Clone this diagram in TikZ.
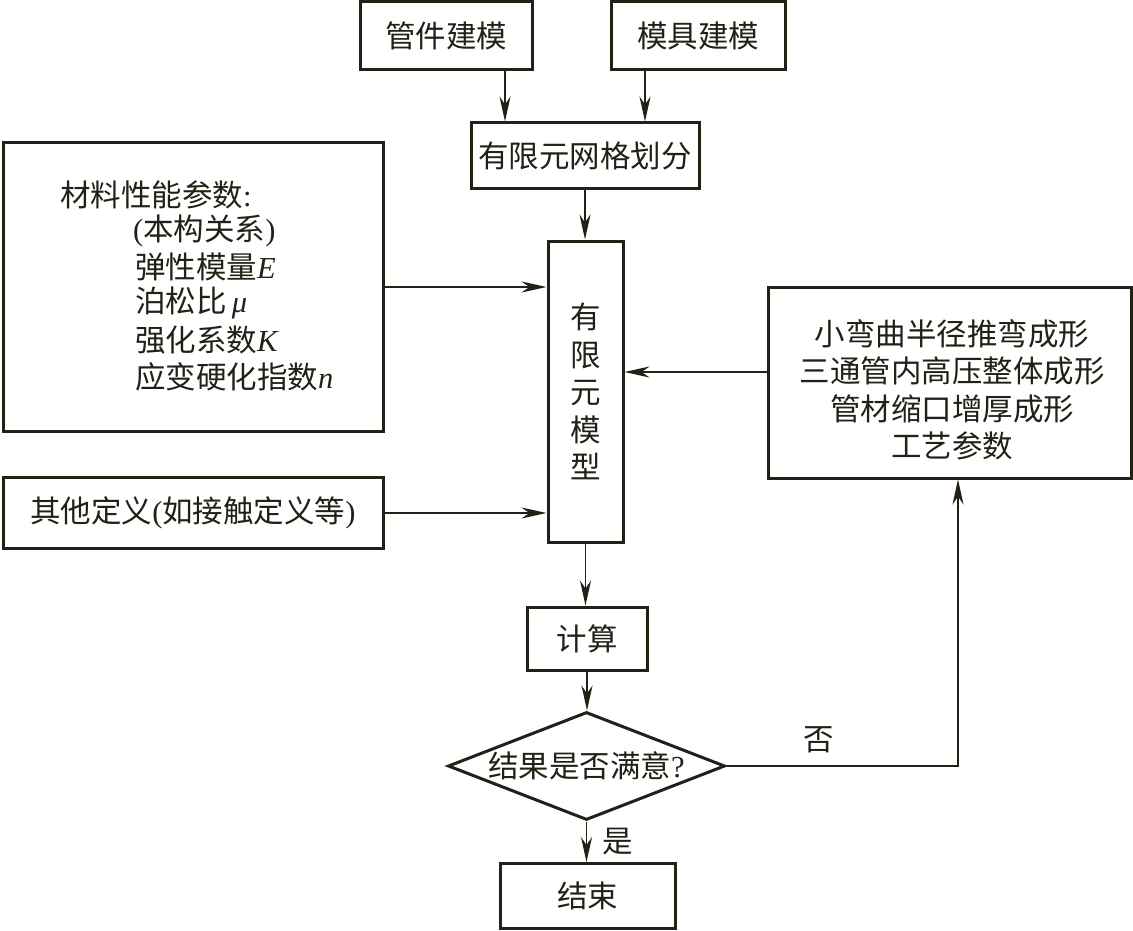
\documentclass[tikz,border=0pt]{standalone}
\usepackage{fontspec}
\setmainfont{Liberation Serif}
\newfontfamily\cjk{Noto Sans CJK SC}
\usetikzlibrary{shapes.geometric,arrows.meta}
\definecolor{ink}{RGB}{35,32,22}
\newcommand\ltn[1]{{\rmfamily #1}}
\newcommand\ltit[1]{{\rmfamily\itshape #1}}
\begin{document}
\begin{tikzpicture}[x=1pt,y=-1pt,
  box/.style={draw=ink, line width=3pt, inner sep=0pt, text=ink,
    font=\fontsize{30.5}{37.5}\selectfont\cjk, align=center},
  txt/.style={inner sep=0pt, text=ink, font=\fontsize{30.5}{37.5}\selectfont\cjk},
  arr/.style={draw=ink, line width=1.8pt,
    -{Stealth[length=25pt,width=11pt,inset=8pt]}},
]
\useasboundingbox[fill=white] (0,0) rectangle (1133,931);

% boxes
\node[box, minimum width=172, minimum height=68] (a1) at (446,36) {管件建模};
\node[box, minimum width=174, minimum height=68] (a2) at (698,36) {模具建模};
\node[box, minimum width=228, minimum height=66] (mesh) at (585,156) {有限元网格划分};
\node[box, minimum width=75, minimum height=301] (fem) at (585.5,391.5) {有\\限\\元\\模\\型};
\node[box, minimum width=380, minimum height=288] (mat) at (193,287) {};
\node[box, minimum width=380, minimum height=71] (other) at (193,513)
  {其他定义\ltn{(}如接触定义等\ltn{)}};
\node[box, minimum width=363, minimum height=191] (proc) at (949.5,382.5) {};
\node[box, minimum width=120, minimum height=63] (calc) at (587,638.5) {计算};
\node[box, diamond, aspect=2.56, minimum width=277, minimum height=108] (dec)
  at (586.5,766) {结果是否满意\ltn{?}};
\node[box, minimum width=175, minimum height=65] (end) at (587.5,896) {结束};

% texts inside the material box
\node[txt, anchor=west] (m1) at (60,195) {材料性能参数\ltn{:}};
\node[txt, anchor=west] (m2) at (133,231) {\ltn{(}本构关系\ltn{)}};
\node[txt, anchor=west] (m3) at (135,267) {弹性模量\ltit{E}};
\node[txt, anchor=west] (m4) at (135,303) {泊松比\,\ltit{μ}};
\node[txt, anchor=west] (m5) at (135,340) {强化系数\ltit{K}};
\node[txt, anchor=west] (m6) at (135,377) {应变硬化指数\ltit{n}};

% texts inside the process box
\node[txt, align=center] (ptext) at (952,390)
  {小弯曲半径推弯成形\\三通管内高压整体成形\\管材缩口增厚成形\\工艺参数};

% connectors
\draw[arr] ([xshift=59pt]a1.south) -- ([xshift=59pt]a1.south |- mesh.north);
\draw[arr] ([xshift=-53pt]a2.south) -- ([xshift=-53pt]a2.south |- mesh.north);
\draw[arr] (mesh.south) -- (mesh.south |- fem.north);
\draw[arr] (mat.east) -- (mat.east -| fem.west);
\draw[arr] (other.east) -- (other.east -| fem.west);
\draw[arr] ([yshift=10.5pt]proc.west) -- ([yshift=10.5pt]proc.west -| fem.east);
\draw[arr] (fem.south) -- (fem.south |- calc.north);
\draw[arr] (calc.south) -- (calc.south |- dec.north);
\draw[arr] (dec.south) -- node[txt, anchor=west, xshift=15pt] {是} (dec.south |- end.north);
\coordinate (pin) at ([xshift=8.5pt]proc.south);
\draw[arr] (dec.east) -- node[txt, pos=0.4, yshift=26pt] {否} (dec.east -| pin) -- (pin);
\end{tikzpicture}
\end{document}
